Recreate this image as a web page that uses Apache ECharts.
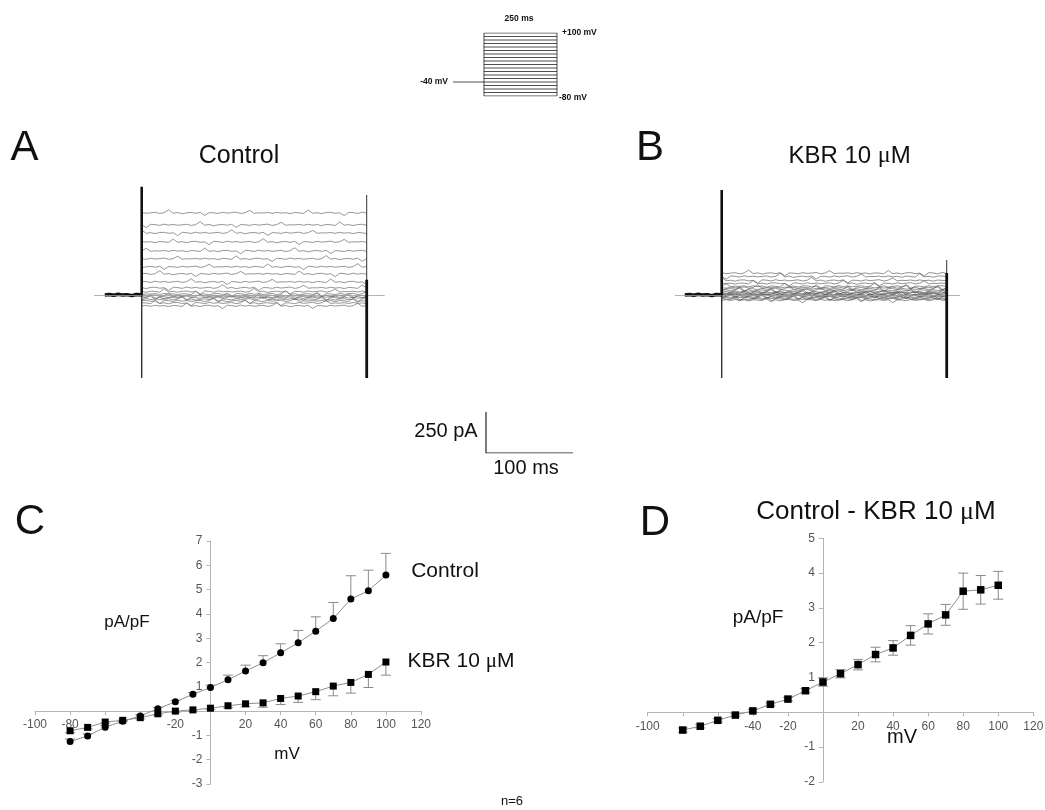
<!DOCTYPE html>
<html>
<head>
<meta charset="utf-8">
<script src="https://cdn.jsdelivr.net/npm/echarts@6/dist/echarts.min.js"></script>
<style>
  html, body { margin: 0; background: #fff; }
  #chart { width: 1045px; height: 810px; }
</style>
</head>
<body>
<div id="chart"></div>
<script>
// ---- voltage protocol ----
const stepVoltages = [-80, -70, -60, -50, -40, -30, -20, -10, 0, 10, 20, 30, 40, 50, 60, 70, 80, 90, 100]
const holdingVoltage = -40
const holdingStartMs = -106
const pulseMs = 250

// ---- current traces (pA), one level per sweep, same order as stepVoltages ----
const controlLevels = [-67, -50, -37, -27, -18, -12, -5, 5, 20, 43, 79, 128, 171, 220, 268, 323, 378, 427, 500]
const kbrLevels = [-32, -26, -20, -14, -8, -4, 0, 4, 9, 14, 19, 28, 36, 44, 52, 70, 88, 112, 132]
// recorded noise shape, sampled every 5 ms over the pulse
const ripple = [0, 3, -2, 4, -1, 2, -4, 3, 1, -3, 18, -2, 2, -4, 3, 4, -2, 1, -16, 4, 2, -3, 5, -1, 3, -2,
  1, 4, -3, 2, 20, -2, 3, -5, 1, 3, -2, 4, -15, 2, 1, -3, 4, -1, 2, 5, -3, 2, 16, -2, 1]
const holdingMs = [-41, -2]
const controlSpikeOn = [660, 0, -506]
const controlSpikeOff = [610, 92, -506]
const kbrSpikeOn = [640, 0, -506]
const kbrSpikeOff = [213, 134, -506]
const scaleBarMs = [0, 100]
const scaleBarPA = [0, 250]

// ---- I-V curves (pA/pF) ----
const voltages = [-80, -70, -60, -50, -40, -30, -20, -10, 0, 10, 20, 30, 40, 50, 60, 70, 80, 90, 100]
const controlIV = [-1.25, -1.02, -0.66, -0.42, -0.2, 0.1, 0.38, 0.69, 0.97, 1.29, 1.65, 1.99, 2.4, 2.81, 3.29, 3.81, 4.61, 4.95, 5.6]
const controlSem = [0.1, 0.08, 0.06, 0.05, 0.05, 0.05, 0.06, 0.08, 0.1, 0.19, 0.24, 0.29, 0.37, 0.51, 0.59, 0.66, 0.96, 0.85, 0.89]
const kbrIV = [-0.81, -0.67, -0.45, -0.38, -0.27, -0.11, 0.0, 0.05, 0.12, 0.22, 0.3, 0.34, 0.52, 0.62, 0.8, 1.03, 1.18, 1.51, 2.02]
const kbrSem = [0.08, 0.06, 0.05, 0.05, 0.05, 0.05, 0.05, 0.05, 0.05, 0.08, 0.12, 0.18, 0.25, 0.26, 0.33, 0.4, 0.44, 0.54, 0.54]
const diffIV = [-0.51, -0.4, -0.23, -0.08, 0.04, 0.23, 0.38, 0.62, 0.87, 1.11, 1.37, 1.66, 1.85, 2.21, 2.54, 2.8, 3.48, 3.52, 3.65]
const diffSem = [0.06, 0.05, 0.05, 0.04, 0.04, 0.04, 0.05, 0.06, 0.12, 0.12, 0.15, 0.21, 0.21, 0.28, 0.29, 0.3, 0.52, 0.41, 0.4]
const hiddenTicksC = [0, -60, -40]
const hiddenTicksD = [0, -80, -60]

const FONT = '"Liberation Sans", Arial, sans-serif'
const chart = echarts.init(document.getElementById('chart'))

const grids = [
  { left: 453, top: 33, width: 104, height: 63 },
  { left: 94, top: 180.2, width: 290.7, height: 213.1 },
  { left: 674.9, top: 180.2, width: 285.3, height: 213.1 },
  { left: 486, top: 412, width: 87, height: 41 },
  { left: 35, top: 541, width: 386, height: 243 },
  { left: 647.7, top: 538.3, width: 385.6, height: 243.6 },
]

function hiddenAxis(gridIndex, min, max) {
  return { gridIndex, type: 'value', min, max, show: false }
}

// axis drawn through the zero of the other axis (labels follow the line)
function ivAxis(gridIndex, dim, min, max, interval, hidden, otherMin, otherMax) {
  const g = grids[gridIndex]
  const offset = dim === 'x'
    ? -g.height * (0 - otherMin) / (otherMax - otherMin)
    : -g.width * (0 - otherMin) / (otherMax - otherMin)
  return {
    gridIndex, type: 'value', min, max, interval, offset,
    axisLine: { onZero: false, lineStyle: { color: '#b4b4b4', width: 1 } },
    axisTick: { length: 4, lineStyle: { color: '#b4b4b4' } },
    axisLabel: {
      color: '#555', fontSize: 12, fontFamily: FONT, margin: 8,
      formatter: v => (hidden.includes(v) ? '' : String(v)),
    },
    splitLine: { show: false },
  }
}

function sweep(level, k, xAxisIndex, color, width) {
  return {
    type: 'line', xAxisIndex, yAxisIndex: xAxisIndex, symbol: 'none', silent: true,
    lineStyle: { color, width },
    data: ripple.map((_, i) => [i * 5, level + ripple[(i + k * 7) % ripple.length]]),
    z: 3,
  }
}

function vline(axis, t, values, width, color) {
  return {
    type: 'line', xAxisIndex: axis, yAxisIndex: axis, symbol: 'none', silent: true,
    lineStyle: { color, width },
    data: values.map(v => [t, v]),
    z: 5,
  }
}

function errorBars(axis, values, sems, mode) {
  return {
    type: 'custom', xAxisIndex: axis, yAxisIndex: axis, silent: true, z: 3,
    data: voltages.map((v, i) => [
      v,
      mode === 'up' ? values[i] : values[i] - sems[i],
      mode === 'down' ? values[i] : values[i] + sems[i],
    ]),
    renderItem(params, api) {
      const lo = api.coord([api.value(0), api.value(1)])
      const hi = api.coord([api.value(0), api.value(2)])
      const style = { stroke: '#8a8a8a', lineWidth: 1 }
      const kids = [{ type: 'line', shape: { x1: lo[0], y1: lo[1], x2: hi[0], y2: hi[1] }, style }]
      if (mode !== 'down') kids.push({ type: 'line', shape: { x1: hi[0] - 5, y1: hi[1], x2: hi[0] + 5, y2: hi[1] }, style })
      if (mode !== 'up') kids.push({ type: 'line', shape: { x1: lo[0] - 5, y1: lo[1], x2: lo[0] + 5, y2: lo[1] }, style })
      return { type: 'group', children: kids }
    },
  }
}

function ivLine(axis, values, symbol, size) {
  return {
    type: 'line', xAxisIndex: axis, yAxisIndex: axis, symbol, symbolSize: size, silent: true,
    lineStyle: { color: '#8f8f8f', width: 1 },
    itemStyle: { color: '#000', borderWidth: 0 },
    data: voltages.map((v, i) => [v, values[i]]),
    z: 4,
  }
}

function label(text, x, y, size, extra) {
  return {
    type: 'text', x, y, silent: true,
    style: Object.assign({ text, fontSize: size, fontFamily: FONT, fill: '#111', align: 'center', verticalAlign: 'middle' }, extra || {}),
  }
}

function muLabel(prefix, x, y, size) {
  return {
    type: 'text', x, y, silent: true,
    style: {
      text: `{a|${prefix}}{m|μ}{a|M}`, align: 'center', verticalAlign: 'middle',
      rich: {
        a: { fontSize: size, fontFamily: FONT, fill: '#111' },
        m: { fontSize: size, fontFamily: '"Liberation Serif", serif', fill: '#111' },
      },
    },
  }
}

const protoStyle = { color: '#222', width: 0.8 }
const series = []

// protocol (axis 0)
stepVoltages.forEach(v => series.push({
  type: 'line', xAxisIndex: 0, yAxisIndex: 0, symbol: 'none', silent: true, lineStyle: protoStyle,
  data: [[0, v], [pulseMs, v]],
}))
series.push({
  type: 'line', xAxisIndex: 0, yAxisIndex: 0, symbol: 'none', silent: true, lineStyle: protoStyle,
  data: [[holdingStartMs, holdingVoltage], [0, holdingVoltage]],
})
;[0, pulseMs].forEach(t => series.push({
  type: 'line', xAxisIndex: 0, yAxisIndex: 0, symbol: 'none', silent: true, lineStyle: protoStyle,
  data: [[t, stepVoltages[0]], [t, stepVoltages[stepVoltages.length - 1]]],
}))

// traces A (axis 1) and B (axis 2)
;[[1, controlLevels, '#6a6a6a', 0.7, controlSpikeOn, controlSpikeOff],
  [2, kbrLevels, '#4a4a4a', 0.6, kbrSpikeOn, kbrSpikeOff]].forEach(([ax, levels, color, w, on, off]) => {
  series.push({
    type: 'line', xAxisIndex: ax, yAxisIndex: ax, symbol: 'none', silent: true,
    lineStyle: { color: '#9a9a9a', width: 0.8 }, data: [],
    markLine: { silent: true, symbol: 'none', label: { show: false }, lineStyle: { color: '#a0a0a0', width: 0.8, type: 'solid' }, data: [{ yAxis: 0 }] },
  })
  levels.forEach((lv, k) => series.push(sweep(lv, k, ax, color, w)))
  series.push({
    type: 'line', xAxisIndex: ax, yAxisIndex: ax, symbol: 'none', silent: true,
    lineStyle: { color: '#111', width: 3.5 },
    data: ripple.slice(0, 9).map((r, i) => [holdingMs[0] + i * 5, r]).concat([[holdingMs[1], 0]]),
    z: 4,
  })
  series.push(vline(ax, 0, on.slice(0, 2), 2.6, '#111'))
  series.push(vline(ax, 0, on.slice(1), 1.4, '#333'))
  series.push(vline(ax, pulseMs, [off[0], off[2]], 1, '#333'))
  series.push(vline(ax, pulseMs, off.slice(1), 2.8, '#111'))
})

// scale bar (axis 3)
series.push({
  type: 'line', xAxisIndex: 3, yAxisIndex: 3, symbol: 'none', silent: true,
  lineStyle: { color: '#222', width: 1.2 },
  data: [[scaleBarMs[0], scaleBarPA[1]], [scaleBarMs[0], scaleBarPA[0]], [scaleBarMs[1], scaleBarPA[0]]],
})

// C (axis 4) and D (axis 5)
series.push(errorBars(4, controlIV, controlSem, 'up'))
series.push(errorBars(4, kbrIV, kbrSem, 'down'))
series.push(ivLine(4, controlIV, 'circle', 7))
series.push(ivLine(4, kbrIV, 'rect', 7))
series.push(errorBars(5, diffIV, diffSem, 'both'))
series.push(ivLine(5, diffIV, 'rect', 7.5))

chart.setOption({
  animation: false,
  backgroundColor: '#fff',
  grid: grids.map(g => Object.assign({ outerBoundsMode: 'none', containLabel: false }, g)),
  xAxis: [
    hiddenAxis(0, holdingStartMs, pulseMs),
    hiddenAxis(1, -53, 270),
    hiddenAxis(2, -52, 265),
    hiddenAxis(3, 0, 100),
    ivAxis(4, 'x', -100, 120, 20, hiddenTicksC, -3, 7),
    ivAxis(5, 'x', -100, 120, 20, hiddenTicksD, -2, 5),
  ],
  yAxis: [
    hiddenAxis(0, -80, 100),
    hiddenAxis(1, -600, 700),
    hiddenAxis(2, -600, 700),
    hiddenAxis(3, 0, 250),
    ivAxis(4, 'y', -3, 7, 1, [0], -100, 120),
    ivAxis(5, 'y', -2, 5, 1, [0], -100, 120),
  ],
  series,
  graphic: [
    label('250 ms', 519, 19, 8.5, { fontWeight: 'bold' }),
    label('+100 mV', 562, 33, 8.5, { fontWeight: 'bold', align: 'left' }),
    label('-40 mV', 448, 82, 8.5, { fontWeight: 'bold', align: 'right' }),
    label('-80 mV', 559, 98, 8.5, { fontWeight: 'bold', align: 'left' }),
    label('A', 24.5, 148, 42),
    label('Control', 239, 156, 25),
    label('B', 650, 148, 42),
    muLabel('KBR 10 ', 849.5, 156, 24),
    label('250 pA', 446, 431, 20),
    label('100 ms', 526, 468, 20),
    label('C', 30, 522, 42),
    label('D', 655, 523, 42),
    muLabel('Control - KBR 10 ', 876, 512, 26),
    label('pA/pF', 127, 622, 17),
    label('mV', 287, 754, 17),
    label('Control', 445, 571, 21),
    muLabel('KBR 10 ', 461, 661, 21),
    label('pA/pF', 758, 618, 19),
    label('mV', 902, 737, 20),
    label('n=6', 512, 801, 13),
  ],
})
</script>
</body>
</html>
